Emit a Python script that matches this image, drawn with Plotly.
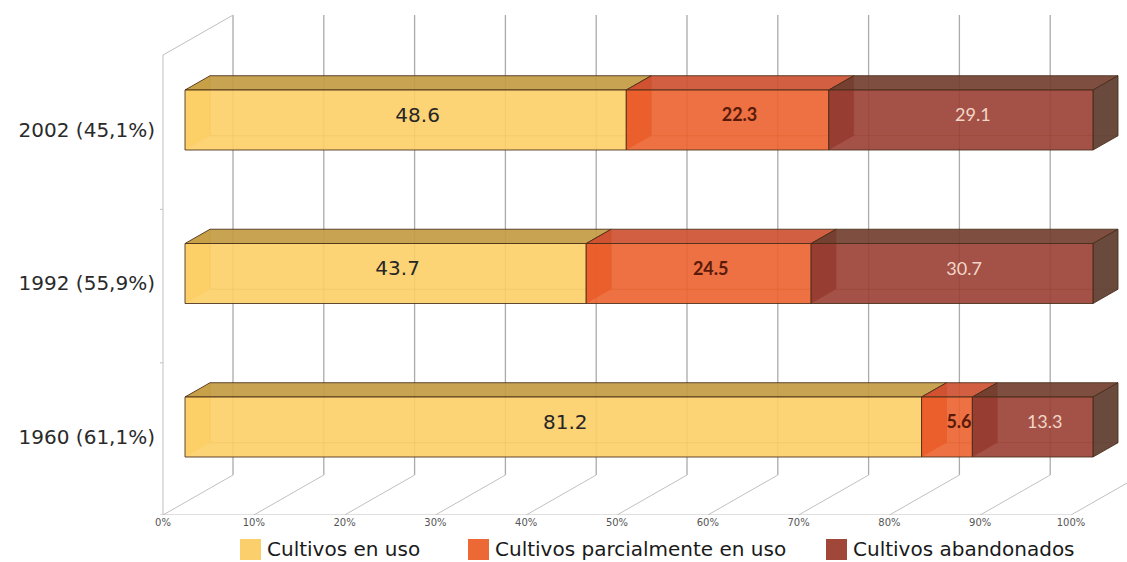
import plotly.graph_objects as go

# ---- data ----
categorias = ["1960 (61,1%)", "1992 (55,9%)", "2002 (45,1%)"]
series = ["Cultivos en uso", "Cultivos parcialmente en uso", "Cultivos abandonados"]
en_uso = [81.2, 43.7, 48.6]
parcial = [5.6, 24.5, 22.3]
abandonados = [13.3, 30.7, 29.1]
escala = [0, 10, 20, 30, 40, 50, 60, 70, 80, 90, 100]

# ---- style ----
cara_frontal = ["#FCCE66", "#EB622E", "#9A3F33"]
leyenda_color = ["#FBD06C", "#EC6835", "#A0473A"]
cara_superior = ["#C49C44", "#CF5334", "#744232"]
cara_izquierda = ["#FCCE66", "#D8400C", "#7E2318"]
cara_derecha = ["#A8843A", "#B4452A", "#634034"]
color_texto = ["#262626", "#5A1A0A", "#F3D6C8"]

PX_X = 9.08      # pixels per percent point
PX_Y = 153.5     # pixels per category step
INCL = 0.571     # vertical rise per pixel of depth
D_SUELO = -22    # depth of the floor front edge
D_FONDO = 25     # depth of the back face of each bar
D_PARED = 48     # depth of the back wall
H = 30 / PX_Y    # half bar height
V_SUELO = -0.4915
V_TECHO = 2.505


def proy(p, v, d):
    return p + d / PX_X, v + d * INCL / PX_Y


def rgba(hexcol, a):
    h = hexcol.lstrip("#")
    r, g, b = int(h[0:2], 16), int(h[2:4], 16), int(h[4:6], 16)
    return f"rgba({r},{g},{b},{a})"


fig = go.Figure()


def poligono(pts, fill, line="rgba(0,0,0,0)", lw=1):
    xy = [proy(*p) for p in pts]
    xs = [q[0] for q in xy] + [xy[0][0]]
    ys = [q[1] for q in xy] + [xy[0][1]]
    fig.add_trace(go.Scatter(x=xs, y=ys, mode="lines", fill="toself",
                             fillcolor=fill, line=dict(color=line, width=lw),
                             hoverinfo="skip", showlegend=False))


def lineas(segs, color, lw=1):
    xs, ys = [], []
    for a, b in segs:
        pa, pb = proy(*a), proy(*b)
        xs += [pa[0], pb[0], None]
        ys += [pa[1], pb[1], None]
    fig.add_trace(go.Scatter(x=xs, y=ys, mode="lines",
                             line=dict(color=color, width=lw),
                             hoverinfo="skip", showlegend=False))


# ---- walls and floor ----
pared = [((p, V_SUELO, D_PARED), (p, V_TECHO, D_PARED)) for p in escala]
suelo = [((p, V_SUELO, D_SUELO), (p, V_SUELO, D_PARED)) for p in escala]
lineas(pared, "#ababab", 1.3)
lineas(suelo, "#c0c0c0", 1)
marco = [((0, V_SUELO, D_SUELO), (0, V_TECHO, D_SUELO)),
         ((0, V_TECHO, D_SUELO), (0, V_TECHO, D_PARED)),
         ((0, V_SUELO, D_SUELO), (escala[-1], V_SUELO, D_SUELO))]
marco += [((-0.35, k + 0.5, D_SUELO), (0, k + 0.5, D_SUELO))
          for k in range(len(categorias) - 1)]
marco += [((-0.35, V_SUELO, D_SUELO), (0, V_SUELO, D_SUELO))]
lineas(marco, "#c0c0c0", 1)

# ---- 3D stacked bars (shares normalised to 100 %) ----
valores = [en_uso, parcial, abandonados]
borde = "rgba(70,45,25,0.85)"
etiquetas = [([], [], []) for _ in series]

for i in range(len(categorias)):
    fila = [serie[i] for serie in valores]
    total = sum(fila)
    ini = 0.0
    for j, val in enumerate(fila):
        s = ini
        e = ini + val / total * 100
        ini = e
        v = i
        # left face and hidden back edges, seen through the front face
        poligono([(s, v - H, 0), (s, v + H, 0), (s, v + H, D_FONDO), (s, v - H, D_FONDO)],
                 rgba(cara_izquierda[j], 0.95))
        lineas([((s, v - H, D_FONDO), (e, v - H, D_FONDO)),
                ((s, v - H, D_FONDO), (s, v + H, D_FONDO))],
               "rgba(90,60,30,0.5)", 1)
        # top face
        poligono([(s, v + H, 0), (e, v + H, 0), (e, v + H, D_FONDO), (s, v + H, D_FONDO)],
                 rgba(cara_superior[j], 0.93), borde, 1)
        # right face of the last block
        if j == len(fila) - 1:
            poligono([(e, v - H, 0), (e, v + H, 0), (e, v + H, D_FONDO), (e, v - H, D_FONDO)],
                     rgba(cara_derecha[j], 0.95), borde, 1)
        # front face
        poligono([(s, v - H, 0), (e, v - H, 0), (e, v + H, 0), (s, v + H, 0)],
                 rgba(cara_frontal[j], 0.9), borde, 1)
        etiquetas[j][0].append((s + e) / 2 + 12 / PX_X)
        etiquetas[j][1].append(v + 0.02)
        etiquetas[j][2].append(f"{val:.1f}")

fuentes = [dict(family="DejaVu Sans", size=20, color=color_texto[0]),
           dict(family="Lato", size=18, color=color_texto[1], weight="bold"),
           dict(family="Lato", size=18, color=color_texto[2])]
for j in range(len(series)):
    xs, ys, ts = etiquetas[j]
    fig.add_trace(go.Scatter(x=xs, y=ys, text=ts, mode="text",
                             textposition="middle center", textfont=fuentes[j],
                             hoverinfo="skip", showlegend=False))

# ---- legend ----
leyenda_x = [240, 468, 826]
for j, nombre in enumerate(series):
    x0 = (leyenda_x[j] - 160) / 967
    x1 = (leyenda_x[j] + 21 - 160) / 967
    fig.add_shape(type="rect", xref="paper", yref="paper",
                  x0=x0, x1=x1, y0=(515 - 539) / 515, y1=(515 - 560) / 515,
                  fillcolor=leyenda_color[j], line=dict(width=0))
    fig.add_annotation(text=nombre, xref="paper", yref="paper",
                       x=(leyenda_x[j] + 25 - 160) / 967, y=(515 - 549) / 515,
                       xanchor="left", yanchor="middle", showarrow=False,
                       font=dict(family="DejaVu Sans", size=20, color="#1a1a1a"))

fig.update_layout(
    width=1127, height=562,
    margin=dict(l=160, r=0, t=0, b=47),
    paper_bgcolor="white", plot_bgcolor="white",
    showlegend=False,
    xaxis=dict(range=[(160 - 185) / PX_X, (1127 - 185) / PX_X],
               tickvals=[p + D_SUELO / PX_X for p in escala],
               ticktext=[f"{p}%" for p in escala],
               showgrid=False, zeroline=False, showline=False, ticks="",
               tickfont=dict(family="DejaVu Sans", size=10, color="#555555"),
               fixedrange=True),
    yaxis=dict(range=[-0.5733, 2.7818],
               tickvals=[k - 0.065 for k in range(len(categorias))],
               ticktext=categorias,
               showgrid=False, zeroline=False, showline=False, ticks="",
               ticklabelstandoff=4,
               tickfont=dict(family="DejaVu Sans", size=20, color="#2a2a2a"),
               fixedrange=True),
)

fig.write_html("out.html")
